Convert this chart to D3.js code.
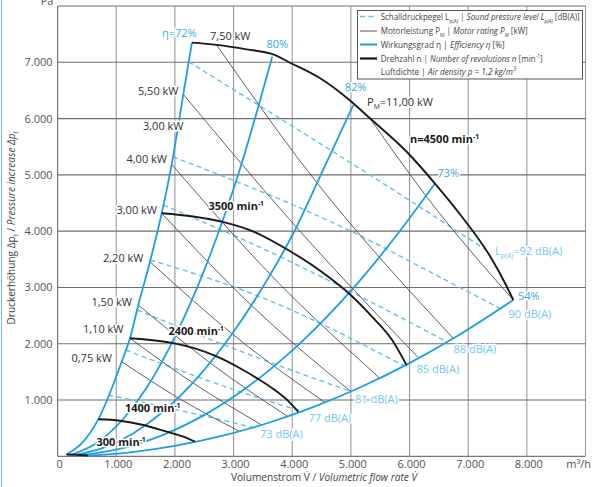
<!DOCTYPE html>
<html>
<head>
<meta charset="utf-8">
<script src="https://cdn.jsdelivr.net/npm/d3@7"></script>
<style>
body { margin: 0; background: #fff; }
svg { font-family: "Open Sans", sans-serif; }
</style>
</head>
<body>
<svg id="chart" width="600" height="487"></svg>
<script>
// axis ticks
let xTicks = [0, 1000, 2000, 3000, 4000, 5000, 6000, 7000, 8000]
let yTicks = [1000, 2000, 3000, 4000, 5000, 6000, 7000]
let xGrid = [1000, 2000, 3000, 4000, 5000, 6000, 7000, 8000, 9000]
let yGrid = [1000, 2000, 3000, 4000, 5000, 6000, 7000, 8000]

// Drehzahl (speed) curves, [V m3/h, dp Pa]
let speed_4500 = [[2290,7350],[2710,7310],[3220,7230],[3700,7130],[3930,7010],[4470,6720],[5010,6300],[5330,6000],[5980,5380],[6434,4846],[6860,4300],[7371,3558],[7627,3079],[7769,2777]]
let speed_3500 = [[1775,4317],[2310,4260],[2830,4160],[3370,3980],[3930,3665],[4500,3280],[4960,2900],[5360,2480],[5700,2070],[5950,1620]]
let speed_2400 = [[1234,2096],[1970,2010],[2310,1925],[2710,1775],[3110,1565],[3420,1375],[3700,1180],[3930,985],[4103,792]]
let speed_1400 = [[694,657],[1064,632],[1461,556],[1860,437],[2143,348],[2342,259]]
let speed_300 = [[152,33],[330,27],[520,12]]

// Wirkungsgrad (efficiency) curves
let eff_72 = [[152,33],[400,220],[694,657],[1093,1681],[1234,2096],[1376,2688],[1575,3457],[1775,4317],[1945,5187],[2143,6431],[2290,7350]]
let eff_80 = [[245,32],[700,260],[1132,680],[1500,1190],[1916,1950],[2400,3050],[2808,4168],[3138,5200],[3365,6000],[3660,7100]]
let eff_82 = [[336,28],[800,157],[1300,415],[1800,796],[2400,1415],[3000,2211],[3500,3010],[4047,4020],[4473,4967],[5041,6241]]
let eff_73 = [[429,22],[1000,118],[1800,381],[2600,794],[3400,1358],[4200,2073],[5000,2938],[5800,3953],[6434,4846]]
let eff_54 = [[518,12],[1200,66],[2000,184],[2800,361],[3600,596],[4400,891],[5200,1244],[6000,1656],[6800,2127],[7769,2777]]

// Motorleistung (motor rating) lines
let mot_075 = [[1093,1681],[2100,1010],[3104,442]]
let mot_110 = [[1234,2096],[2357,1270],[3481,557]]
let mot_150 = [[1376,2688],[2650,1620],[3923,708]]
let mot_220 = [[1575,3457],[3066,2100],[4557,958]]
let mot_300 = [[1775,4317],[3388,2600],[5000,1150]]
let mot_400 = [[1945,5187],[3720,3130],[5496,1386]]
let mot_550 = [[2143,6431],[3962,4198],[6150,1752]]
let mot_750 = [[2712,7307],[4274,5056],[6746,2096]]
let mot_1100 = [[5325,6005],[6300,4600],[7769,2777]]

// Schalldruckpegel (sound pressure) lines
let snd_92 = [[2233,7010],[6178,4429],[7300,3670]]
let snd_90 = [[1965,5322],[4956,4022],[6775,3043],[7542,2630]]
let snd_88 = [[1800,4464],[3365,3755],[6633,2036]]
let snd_85 = [[1580,3487],[3365,2870],[5900,1610]]
let snd_81 = [[1355,2599],[3365,1769],[5014,1148]]
let snd_77 = [[1163,1888],[3365,1059],[4161,800]]
let snd_73 = [[862,1089],[2428,734],[3365,503]]

let blue = "#1e9fe2"
let lightBlue = "#62c2ef"
let labelBlue = "#3aaae6"
let dbBlue = "#72c8f0"

let svg = d3.select("#chart")

let x = d3.scaleLinear().domain([0, 9000]).range([57.6, 585.5])
let y = d3.scaleLinear().domain([0, 8000]).range([456.3, 6])

let fmt = d3.formatLocale({decimal: ",", thousands: ".", grouping: [3], currency: ["", ""]}).format(",")

let line = d3.line()
    .x(d => x(d[0]))
    .y(d => y(d[1]))
    .curve(d3.curveMonotoneX)

// rich text with sub/superscripts
function rich(sel, parts, size) {
    let shift = 0
    parts.forEach(p => {
        let target = p.sub ? size * 0.3 : p.sup ? -size * 0.38 : 0
        let ts = sel.append("tspan").text(p.t).attr("dy", target - shift)
        shift = target
        if (p.sub || p.sup) ts.attr("font-size", size * 0.62)
        if (p.it) ts.attr("font-style", "italic")
    })
    return sel
}

function halo(sel) {
    return sel.attr("stroke", "#fff").attr("stroke-width", 3)
        .attr("paint-order", "stroke").attr("stroke-linejoin", "round")
}

// frame line on the left
svg.append("line").attr("x1", 1.5).attr("x2", 1.5).attr("y1", 0).attr("y2", 487)
    .attr("stroke", "#6cc3ee").attr("stroke-width", 1)

// grid
svg.append("g").selectAll("line").data(xGrid).enter().append("line")
    .attr("x1", d => x(d)).attr("x2", d => x(d))
    .attr("y1", y(0)).attr("y2", y(8000))
    .attr("stroke", "#9a9a9a").attr("stroke-width", 1.1)
svg.append("g").selectAll("line").data(yGrid).enter().append("line")
    .attr("x1", x(0)).attr("x2", x(9000))
    .attr("y1", d => y(d)).attr("y2", d => y(d))
    .attr("stroke", "#6e6e6e").attr("stroke-width", 1.1)
svg.append("line").attr("x1", x(0)).attr("x2", x(0)).attr("y1", y(0)).attr("y2", y(8000))
    .attr("stroke", "#777").attr("stroke-width", 1.2)
svg.append("line").attr("x1", x(0)).attr("x2", x(9000)).attr("y1", y(0)).attr("y2", y(0))
    .attr("stroke", "#777").attr("stroke-width", 1.2)

// axes
let xAxis = svg.append("g")
    .attr("transform", `translate(1.5,${y(0)})`)
    .call(d3.axisBottom(x).tickValues(xTicks).tickFormat(fmt).tickSize(0).tickPadding(4))
let yAxis = svg.append("g")
    .attr("transform", `translate(${x(0)},0)`)
    .call(d3.axisLeft(y).tickValues(yTicks).tickFormat(fmt).tickSize(0).tickPadding(5))
;[xAxis, yAxis].forEach(a => {
    a.select(".domain").remove()
    a.selectAll("text").attr("font-size", 11).attr("fill", "#555")
        .attr("font-family", "'Open Sans', sans-serif")
})

svg.append("text").attr("x", 591).attr("y", 468).attr("text-anchor", "end")
    .attr("font-size", 11).attr("fill", "#555").text("m³/h")
svg.append("text").attr("x", 47).attr("y", 5).attr("text-anchor", "middle")
    .attr("font-size", 11).attr("fill", "#555").text("Pa")

rich(svg.append("text").attr("x", 324).attr("y", 481).attr("text-anchor", "middle")
    .attr("font-size", 11.5).attr("fill", "#444")
    .attr("textLength", 186).attr("lengthAdjust", "spacingAndGlyphs"),
    [{t: "Volumenstrom V̇ / "}, {t: "Volumetric flow rate V̇", it: 1}], 11.5)

rich(svg.append("text").attr("transform", "translate(15,228) rotate(-90)")
    .attr("text-anchor", "middle").attr("font-size", 11.5).attr("fill", "#444")
    .attr("textLength", 193).attr("lengthAdjust", "spacingAndGlyphs"),
    [{t: "Druckerhöhung Δp"}, {t: "t", sub: 1}, {t: " / "}, {t: "Pressure increase Δp", it: 1}, {t: "t", sub: 1, it: 1}], 11.5)

// sound pressure lines (dashed)
let sound = [snd_92, snd_90, snd_88, snd_85, snd_81, snd_77, snd_73]
svg.append("g").selectAll("path").data(sound).enter().append("path")
    .attr("d", line).attr("fill", "none").attr("stroke", lightBlue)
    .attr("stroke-width", 1.4).attr("stroke-dasharray", "5,3.5")

// motor rating lines
let motors = [mot_075, mot_110, mot_150, mot_220, mot_300, mot_400, mot_550, mot_750, mot_1100]
svg.append("g").selectAll("path").data(motors).enter().append("path")
    .attr("d", line).attr("fill", "none").attr("stroke", "#3a3a3a").attr("stroke-width", 0.8)

// efficiency curves
let effs = [eff_72, eff_80, eff_82, eff_73, eff_54]
svg.append("g").selectAll("path").data(effs).enter().append("path")
    .attr("d", line).attr("fill", "none").attr("stroke", blue).attr("stroke-width", 1.8)

// speed curves
let speeds = [speed_4500, speed_3500, speed_2400, speed_1400, speed_300]
svg.append("g").selectAll("path").data(speeds).enter().append("path")
    .attr("d", line).attr("fill", "none").attr("stroke", "#1a1a1a").attr("stroke-width", 1.9)

// motor labels
let kwLabels = [
    ["5,50 kW", 178.5, 95], ["3,00 kW", 183.5, 130], ["4,00 kW", 167, 162.5],
    ["3,00 kW", 157, 214], ["2,20 kW", 143.5, 262], ["1,50 kW", 132, 305.5],
    ["1,10 kW", 123.5, 332.5], ["0,75 kW", 112, 362]
]
kwLabels.forEach(l => {
    halo(svg.append("text").attr("x", l[1]).attr("y", l[2]).attr("text-anchor", "end")
        .attr("font-size", 11).attr("fill", "#333").text(l[0]))
})
halo(svg.append("text").attr("x", 210).attr("y", 40).attr("font-size", 11).attr("fill", "#333").text("7,50 kW"))
halo(rich(svg.append("text").attr("x", 367).attr("y", 106).attr("font-size", 11).attr("fill", "#333"),
    [{t: "P"}, {t: "M", sub: 1}, {t: "=11,00 kW"}], 11))

// speed labels
let speedLabels = [["n=4500 min", 410, 143], ["3500 min", 208.5, 210], ["2400 min", 168.5, 335],
    ["1400 min", 125, 412], ["300 min", 96.5, 446]]
speedLabels.forEach(l => {
    halo(rich(svg.append("text").attr("x", l[1]).attr("y", l[2]).attr("font-size", 11)
        .attr("font-weight", "bold").attr("fill", "#1a1a1a"),
        [{t: l[0]}, {t: "-1", sup: 1}, {t: ""}], 11))
})

// efficiency labels
let effLabels = [["η=72%", 162, 37], ["80%", 266.5, 48], ["82%", 345, 91], ["73%", 437.5, 177], ["54%", 518, 300]]
effLabels.forEach(l => {
    halo(svg.append("text").attr("x", l[1]).attr("y", l[2]).attr("font-size", 11)
        .attr("fill", labelBlue).text(l[0]))
})

// sound labels
let dbLabels = [["90 dB(A)", 508.5, 318], ["88 dB(A)", 453.5, 353], ["85 dB(A)", 416.5, 373],
    ["81 dB(A)", 355, 403], ["77 dB(A)", 308.5, 422], ["73 dB(A)", 260, 438]]
dbLabels.forEach(l => {
    halo(svg.append("text").attr("x", l[1]).attr("y", l[2]).attr("font-size", 11)
        .attr("fill", dbBlue).text(l[0]))
})
halo(rich(svg.append("text").attr("x", 495).attr("y", 255).attr("font-size", 11).attr("fill", dbBlue),
    [{t: "L"}, {t: "p(A)", sub: 1}, {t: "=92 dB(A)"}], 11))

// legend
let lg = svg.append("g")
lg.append("rect").attr("x", 357.5).attr("y", 10.5).attr("width", 225).attr("height", 68.5)
    .attr("fill", "#fff").attr("stroke", "#555").attr("stroke-width", 1)
let legendRows = [
    {y: 16.5, w: 199, stroke: lightBlue, sw: 1.6, dash: "5,3.5", parts: [{t: "Schalldruckpegel L"}, {t: "p(A)", sub: 1}, {t: " | "}, {t: "Sound pressure level L", it: 1}, {t: "p(A)", sub: 1, it: 1}, {t: " [dB(A)]"}]},
    {y: 31, w: 147, stroke: "#555", sw: 1, parts: [{t: "Motorleistung P"}, {t: "M", sub: 1}, {t: " | "}, {t: "Motor rating P", it: 1}, {t: "M", sub: 1, it: 1}, {t: " [kW]"}]},
    {y: 44.5, w: 124, stroke: blue, sw: 2, parts: [{t: "Wirkungsgrad η | "}, {t: "Efficiency η", it: 1}, {t: " [%]"}]},
    {y: 58.5, w: 162, stroke: "#111", sw: 2.2, parts: [{t: "Drehzahl n | "}, {t: "Number of revolutions n", it: 1}, {t: " [min"}, {t: "-1", sup: 1}, {t: "]"}]},
    {y: 72, w: 135, stroke: null, parts: [{t: "Luftdichte | "}, {t: "Air density ρ = 1,2 kg/m³", it: 1}]}
]
legendRows.forEach(r => {
    if (r.stroke) {
        let ln = lg.append("line").attr("x1", 360).attr("x2", 377).attr("y1", r.y).attr("y2", r.y)
            .attr("stroke", r.stroke).attr("stroke-width", r.sw)
        if (r.dash) ln.attr("stroke-dasharray", r.dash)
    }
    rich(lg.append("text").attr("x", 380.7).attr("y", r.y + 3.2).attr("font-size", 9.5)
        .attr("fill", "#444").attr("textLength", r.w).attr("lengthAdjust", "spacingAndGlyphs"),
        r.parts, 9.5)
})
</script>
</body>
</html>
